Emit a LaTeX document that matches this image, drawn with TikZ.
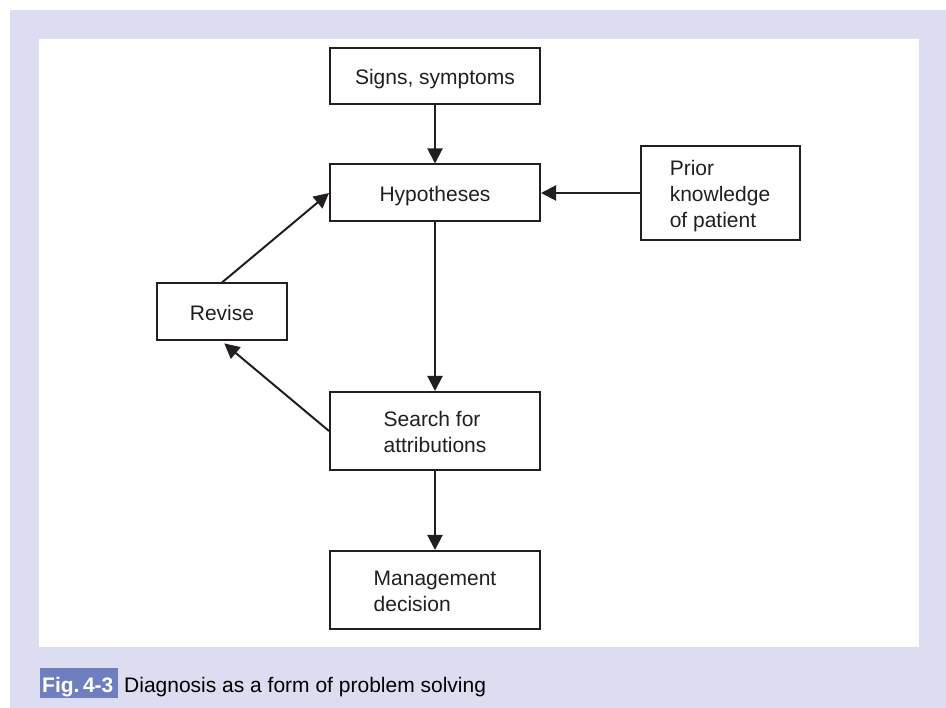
\documentclass[tikz,border=0pt]{standalone}
\usepackage{fontspec}
\setmainfont{Liberation Sans}
\usetikzlibrary{arrows.meta}
\definecolor{lav}{HTML}{DCDDF0}
\definecolor{figblue}{HTML}{6F7EBF}
\definecolor{ink}{HTML}{231F20}
\begin{document}
\begin{tikzpicture}[x=1pt,y=-1pt,
  box/.style={draw=ink, line width=2pt, inner sep=0pt, text=ink,
    font=\fontsize{21}{26}\selectfont, align=left},
  one/.style={text height=19pt, text depth=2pt},
  txt/.style={inner sep=0pt, text=ink, font=\fontsize{21}{26}\selectfont, align=left},
  arr/.style={draw=ink, line width=2pt, -{Triangle[length=15pt,width=15pt]}},
  captxt/.style={inner sep=0pt, anchor=base west, font=\fontsize{21}{25}\selectfont}]
\useasboundingbox (0,0) rectangle (946,708);
\fill[lav] (10,10) rectangle (946,708);
\fill[white] (39,39) rectangle (919,647);
\node[box, one, minimum width=210pt, minimum height=56pt] (sig) at (435,76) {Signs, symptoms};
\node[box, one, minimum width=210pt, minimum height=57pt] (hyp) at (435,193) {Hypotheses};
\node[box, minimum width=159pt, minimum height=94pt] (prior) at (720,193) {};
\node[txt] (priortxt) at (720,196.5) {Prior\\knowledge\\of patient};
\node[box, one, minimum width=130pt, minimum height=57pt] (rev) at (222,312) {Revise};
\node[box, minimum width=210pt, minimum height=78pt] (search) at (435,431) {};
\node[txt] (searchtxt) at (435,432) {Search for\\attributions};
\node[box, minimum width=210pt, minimum height=78pt] (mgmt) at (435,590) {};
\node[txt] (mgmttxt) at (435,591) {Management\\decision};
\draw[arr] (sig) -- (hyp);
\draw[arr] (prior) -- (hyp);
\draw[arr] (hyp) -- (search);
\draw[arr] (search) -- (mgmt);
\draw[arr, shorten >=3pt] (search.west) -- (rev.south);
\draw[arr] (rev.north) -- (hyp.west);
\fill[figblue] (40,668) rectangle (118,698);
\node[captxt, text=white, font=\fontsize{21}{25}\selectfont\bfseries] (fig) at (42,692) {Fig.\,4-3};
\node[captxt, text=black] (cap) at (124,692) {Diagnosis as a form of problem solving};
\end{tikzpicture}
\end{document}
